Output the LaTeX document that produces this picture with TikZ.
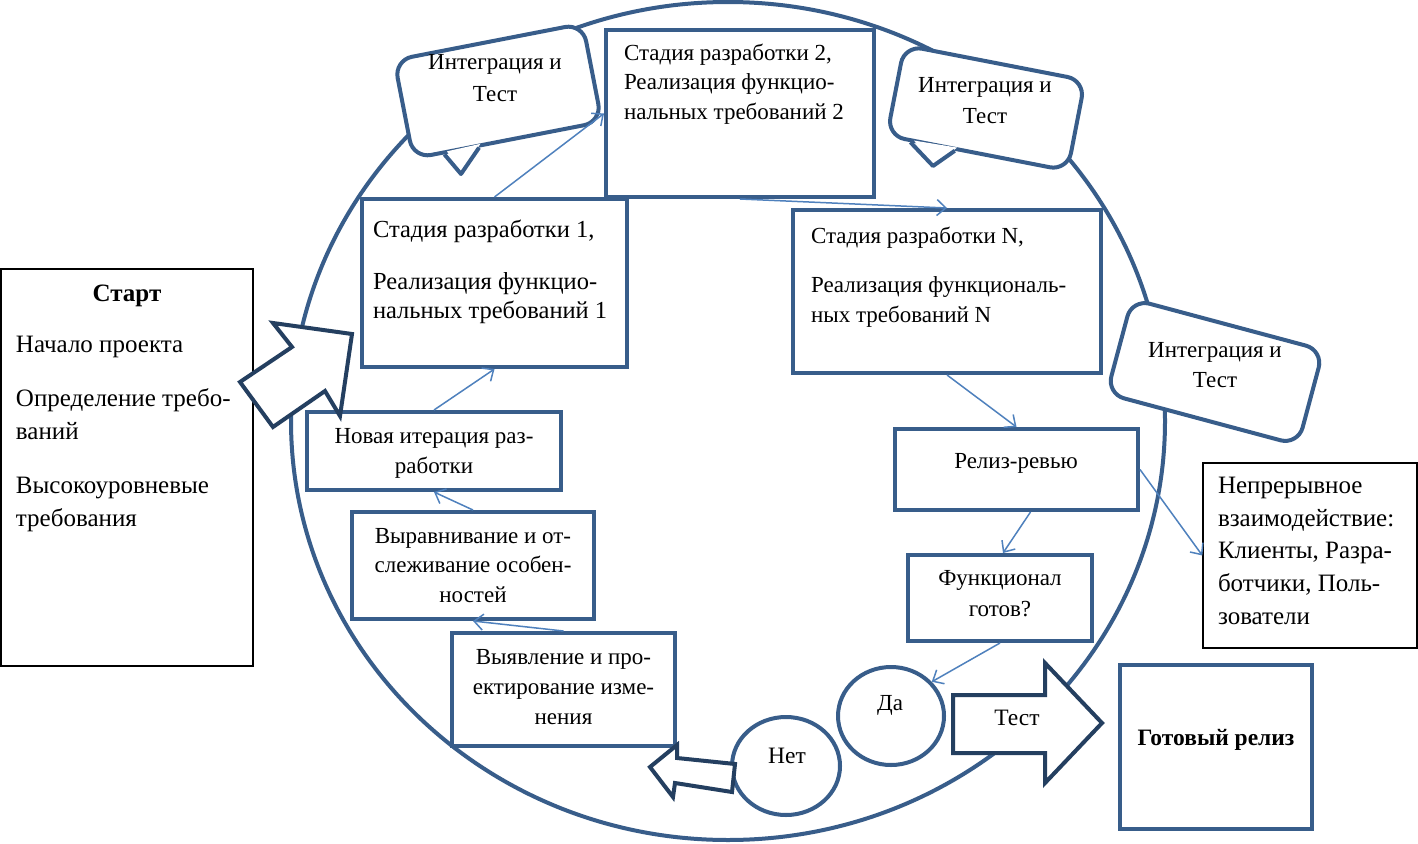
\documentclass[tikz,border=0pt]{standalone}
\usepackage{fontspec}
\setmainfont{Liberation Serif}
\usetikzlibrary{arrows.meta,calc,shapes.geometric}
\definecolor{bord}{HTML}{385D8A}
\definecolor{conncol}{HTML}{4F81BD}
\definecolor{darkc}{HTML}{243F60}
\newcommand\myfs[2]{\fontsize{#1}{#2}\selectfont}
\begin{document}
\begin{tikzpicture}[x=1pt,y=-1pt,
  box/.style={draw=bord,line width=4pt,fill=white,inner sep=0,rectangle},
  thinbox/.style={draw=black,line width=1.3pt,fill=white,inner sep=0,rectangle},
  bubble/.style={draw=bord,line width=4pt,fill=white,inner sep=0,rectangle,rounded corners=18pt},
  oval/.style={draw=bord,line width=4pt,fill=white,inner sep=0,ellipse},
  blockarrow/.style={draw=darkc,line width=4pt,fill=white,line join=miter},
  tailline/.style={draw=bord,line width=4pt,line join=round},
  conn/.style={draw=conncol,line width=1.5pt,-{Straight Barb[length=9pt,width=16pt]}},
  txt/.style={inner sep=0,outer sep=0},
]
\useasboundingbox (0,0) rectangle (1418,843);
\fill[white] (0,0) rectangle (1418,843);

% big ring
\node[draw=bord,line width=4pt,ellipse,inner sep=0,minimum width=874,minimum height=838] (ring) at (728,421) {};

% integration bubbles
\node[bubble,rotate=11,minimum width=192,minimum height=100] (b1) at (498,91) {};
\coordinate (b1p) at ($(b1.south west)!0.17!(b1.south east)$);
\coordinate (b1q) at ($(b1.south west)!0.35!(b1.south east)$);
\coordinate (b1t) at (461,174);
\fill[white] ($(b1p)!4pt!(b1.center)$) -- (b1t) -- ($(b1q)!4pt!(b1.center)$) -- cycle;
\draw[tailline] (b1p) -- (b1t) -- (b1q);

\node[bubble,rotate=-11,minimum width=184,minimum height=92] (b2) at (986,108) {};
\coordinate (b2p) at ($(b2.south west)!0.14!(b2.south east)$);
\coordinate (b2q) at ($(b2.south west)!0.38!(b2.south east)$);
\coordinate (b2t) at (933,166);
\fill[white] ($(b2p)!4pt!(b2.center)$) -- (b2t) -- ($(b2q)!4pt!(b2.center)$) -- cycle;
\draw[tailline] (b2p) -- (b2t) -- (b2q);

\node[bubble,rotate=-15,minimum width=198,minimum height=98] (b3) at (1215,372) {};

% boxes
\node[box,minimum width=268,minimum height=167] (s2) at (740,113.5) {};
\node[box,minimum width=265,minimum height=168] (s1) at (494.5,283) {};
\node[box,minimum width=308,minimum height=163] (sN) at (947,291.5) {};
\node[box,minimum width=254,minimum height=78] (nov) at (434,451) {};
\node[box,minimum width=242,minimum height=107] (vyr) at (473,565.5) {};
\node[box,minimum width=223,minimum height=113] (vyv) at (563.5,689.5) {};
\node[box,minimum width=243,minimum height=81] (rel) at (1016.5,469.5) {};
\node[box,minimum width=184,minimum height=86] (func) at (1000,598) {};
\node[box,minimum width=192,minimum height=164] (ready) at (1216,747) {};
\node[thinbox,minimum width=252,minimum height=397] (start) at (127,467.5) {};
\node[thinbox,minimum width=214,minimum height=185] (nep) at (1310,555.5) {};

% yes / no
\node[oval,minimum width=106,minimum height=98] (da) at (891,716) {};
\node[oval,minimum width=108,minimum height=98] (net) at (786,766) {};

% block arrows
\draw[blockarrow] (953,695) -- (1045,695) -- (1045,663) -- (1102,723) -- (1045,783) -- (1045,753) -- (953,753) -- cycle;
\draw[blockarrow] (735,764) -- (677,758) -- (677,745) -- (650,767) -- (673,797) -- (675,783) -- (732,792) -- cycle;
\draw[blockarrow] (240,382) -- (292,347) -- (273,323) -- (352,334) -- (340,416) -- (325,391) -- (273,427) -- cycle;

% connectors
\draw[conn] (s1.north) -- (s2.west);
\draw[conn] (s2.south) -- (sN.north);
\draw[conn] (sN.south) -- (rel.north);
\draw[conn] ([xshift=14pt]rel.south) -- ([xshift=3pt]func.north);
\draw[conn] (func.south) -- (da.40);
\draw[conn] (rel.east) -- (nep.west);
\draw[conn] (nov.north) -- (s1.south);
\draw[conn] (vyr.north) -- (nov.south);
\draw[conn] (vyv.north) -- (vyr.south);

% texts
\node[txt,anchor=north west,align=left,font=\myfs{23}{29.5}] (t2) at (624,44) {Стадия разработки 2,\\Реализация функцио-\\нальных требований 2};
\node[txt,anchor=north west,align=left,font=\myfs{24.5}{29}] (t1) at (373,220) {Стадия разработки 1,\\[23pt]Реализация функцио-\\нальных требований 1};
\node[txt,anchor=north west,align=left,font=\myfs{23}{30}] (tN) at (811,227) {Стадия разработки N,\\[19pt]Реализация функциональ-\\ных требований N};
\node[txt,anchor=base,font=\myfs{25}{29}\bfseries] (tstart) at (127,301) {Старт};
\node[txt,anchor=north west,align=left,font=\myfs{25}{33}] (tstart2) at (16,336) {Начало проекта\\[21pt]Определение требо-\\ваний\\[21pt]Высокоуровневые\\требования};
\node[txt,anchor=north,align=center,font=\myfs{23}{30}] (tnov) at (434,428) {Новая итерация раз-\\работки};
\node[txt,anchor=north,align=center,font=\myfs{23}{29.5}] (tvyr) at (473,528) {Выравнивание и от-\\слеживание особен-\\ностей};
\node[txt,anchor=north,align=center,font=\myfs{23}{30}] (tvyv) at (563.5,649) {Выявление и про-\\ектирование изме-\\нения};
\node[txt,anchor=base,font=\myfs{23}{29}] (trel) at (1016,468) {Релиз-ревью};
\node[txt,anchor=north,align=center,font=\myfs{23}{31}] (tfunc) at (1000,570) {Функционал\\готов?};
\node[txt,anchor=base,font=\myfs{23}{29}] (tda) at (890,710) {Да};
\node[txt,anchor=base,font=\myfs{23.5}{29}] (tnet) at (787,763) {Нет};
\node[txt,anchor=base,font=\myfs{23.5}{29}] (ttest) at (1017,725) {Тест};
\node[txt,anchor=base,font=\myfs{23.5}{29}\bfseries] (tready) at (1216,745) {Готовый релиз};
\node[txt,anchor=north west,align=left,font=\myfs{25}{32.8}] (tnep) at (1218,477) {Непрерывное\\взаимодействие:\\Клиенты, Разра-\\ботчики, Поль-\\зователи};
\node[txt,anchor=north,align=center,font=\myfs{23}{32}] (tb1) at (495,54) {Интеграция и\\Тест};
\node[txt,anchor=north,align=center,font=\myfs{23}{31}] (tb2) at (985,77) {Интеграция и\\Тест};
\node[txt,anchor=north,align=center,font=\myfs{23}{30}] (tb3) at (1215,342) {Интеграция и\\Тест};
\end{tikzpicture}
\end{document}
